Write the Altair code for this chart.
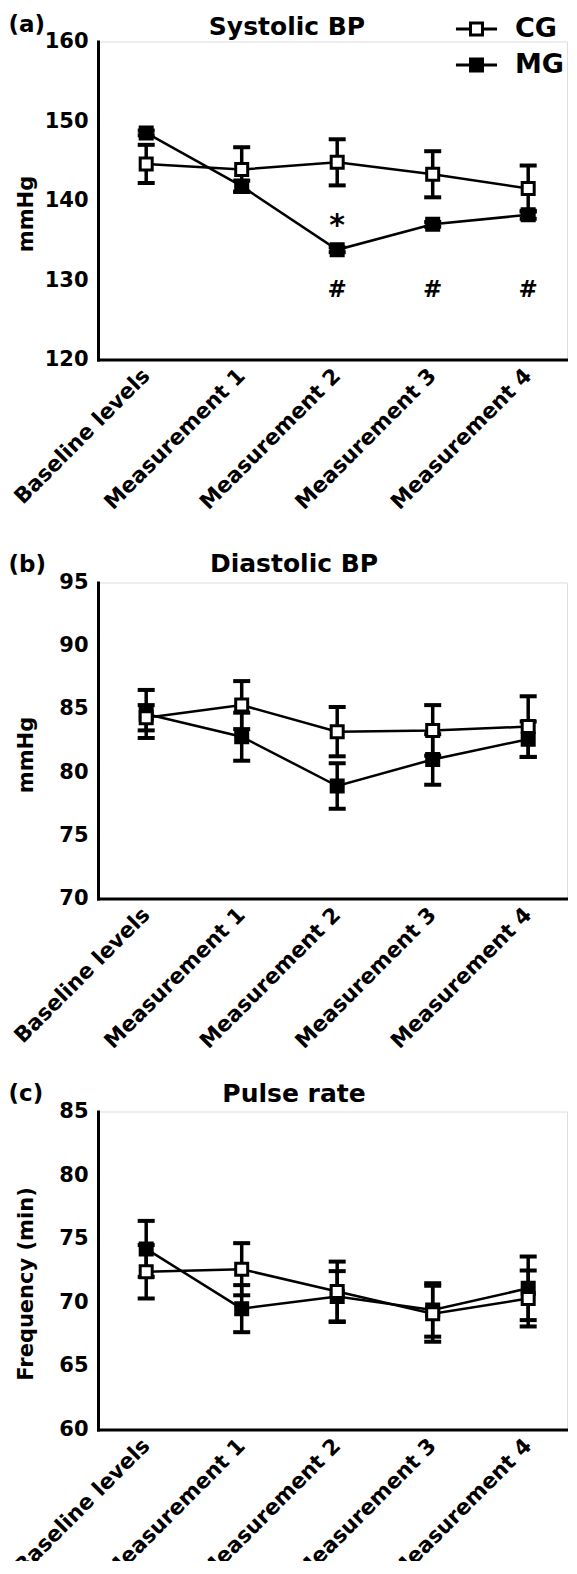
import altair as alt
import pandas as pd

FONT = "DejaVu Sans"

categories = ["Baseline levels", "Measurement 1", "Measurement 2", "Measurement 3", "Measurement 4"]
groups = ["CG", "MG"]

# (a) Systolic BP, mmHg
sys_cg = [144.6, 143.9, 144.8, 143.3, 141.5]
sys_cg_err = [2.4, 2.8, 2.9, 2.9, 2.9]
sys_mg = [148.5, 141.8, 133.8, 137.0, 138.2]
sys_mg_err = [0.3, 0.7, 0.3, 0.3, 0.5]

# (b) Diastolic BP, mmHg
dia_cg = [84.3, 85.3, 83.2, 83.3, 83.6]
dia_cg_err = [1.0, 1.9, 1.95, 2.0, 2.4]
dia_mg = [84.6, 82.8, 78.9, 81.0, 82.6]
dia_mg_err = [1.9, 1.9, 1.8, 2.0, 1.4]

# (c) Pulse rate, per min
pul_cg = [72.4, 72.6, 70.85, 69.1, 70.3]
pul_cg_err = [2.1, 2.05, 2.35, 2.2, 2.2]
pul_mg = [74.2, 69.5, 70.45, 69.4, 71.1]
pul_mg_err = [2.2, 1.85, 2.0, 2.1, 2.5]

# significance marks in panel (a)
sig_cats = ["Measurement 2", "Measurement 2", "Measurement 3", "Measurement 4"]
sig_marks = ["*", "#", "#", "#"]
sig_y = [137.6, 128.8, 128.8, 128.8]

PLOT_W = 469
LEG_PATH = "M-1.58,0H-0.46M0.46,0H1.58M-0.46,-0.46H0.46V0.46H-0.46Z"


def frame(cg, cg_err, mg, mg_err):
    rows = []
    for g, m, e in (("MG", mg, mg_err), ("CG", cg, cg_err)):
        for c, v, s in zip(categories, m, e):
            rows.append({"cat": c, "group": g, "mean": v, "lo": v - s, "hi": v + s})
    return pd.DataFrame(rows)


def panel(df, ymin, ymax, step, ytitle, title, tag, height, title_cx, title_cy,
          tag_cy, legend=None, sig=None):
    xenc = alt.X(
        "cat:N", sort=categories,
        scale=alt.Scale(type="point", domain=categories, padding=0.4555, align=0.554),
        axis=alt.Axis(title=None, labelAngle=315, labelAlign="right", labelBaseline="middle",
                      labelFont=FONT, labelFontSize=21.5, labelFontWeight="bold",
                      labelColor="black", labelPadding=13, labelLimit=400, labelOverlap=False,
                      ticks=False, tickSize=0, domainColor="black", domainWidth=3,
                      domainCap="square", grid=False),
    )
    yscale = alt.Scale(domain=[ymin, ymax], nice=False, zero=False)
    yaxis = alt.Axis(values=list(range(ymin, ymax + 1, step)), title=ytitle,
                     titleFont=FONT, titleFontSize=21, titleFontWeight="bold",
                     titleColor="black", titleX=-72, titleY=172, titleAlign="center",
                     titleBaseline="middle", titleAngle=270,
                     labelFont=FONT, labelFontSize=21, labelFontWeight="bold",
                     labelColor="black", labelPadding=10, labelOverlap=False,
                     ticks=False, tickSize=0, domainColor="black", domainWidth=3,
                     domainCap="square", grid=False)

    def Y(field):
        return alt.Y(field, scale=yscale, axis=yaxis)

    base = alt.Chart(df)
    line = base.mark_line(color="black", strokeWidth=2.5).encode(
        x=xenc, y=Y("mean:Q"), detail="group:N")
    bars = base.mark_rule(color="black", strokeWidth=3.5).encode(
        x=xenc, y=Y("lo:Q"), y2="hi:Q")
    cap_lo = base.mark_tick(color="black", thickness=4, size=17, opacity=1).encode(
        x=xenc, y=Y("lo:Q"))
    cap_hi = base.mark_tick(color="black", thickness=4, size=17, opacity=1).encode(
        x=xenc, y=Y("hi:Q"))
    pts = base.mark_point(shape="square", filled=True, size=144, stroke="black",
                          strokeWidth=3, opacity=1).encode(
        x=xenc, y=Y("mean:Q"),
        fill=alt.Fill("group:N", scale=alt.Scale(domain=groups, range=["white", "black"]),
                      legend=legend),
    )
    layers = [line, bars, cap_lo, cap_hi, pts]
    if sig is not None:
        sdf = pd.DataFrame(sig)
        star = alt.Chart(sdf).transform_filter(alt.datum.mark == "*").mark_text(
            font=FONT, fontSize=30, fontWeight="bold", color="black", baseline="middle", dy=6
        ).encode(x=xenc, y=Y("y:Q"), text="mark:N")
        hashes = alt.Chart(sdf).transform_filter(alt.datum.mark == "#").mark_text(
            font=FONT, fontSize=23, fontWeight="bold", color="black", baseline="middle"
        ).encode(x=xenc, y=Y("y:Q"), text="mark:N")
        layers += [star, hashes]
    tag_layer = alt.Chart(pd.DataFrame({"t": [tag]})).mark_text(
        font=FONT, fontSize=23, fontWeight="bold", color="black", align="left",
        baseline="middle").encode(text="t:N", x=alt.value(-89.5), y=alt.value(tag_cy))
    title_layer = alt.Chart(pd.DataFrame({"t": [title]})).mark_text(
        font=FONT, fontSize=25, fontWeight="bold", color="black", align="center",
        baseline="middle").encode(text="t:N", x=alt.value(title_cx), y=alt.value(title_cy))
    layers += [tag_layer, title_layer]
    return alt.layer(*layers).properties(width=PLOT_W, height=height)


legend_a = alt.Legend(
    orient="none", legendX=364, legendY=-27, title=None, direction="vertical",
    symbolType=LEG_PATH, symbolSize=676, symbolStrokeColor="black", symbolStrokeWidth=3,
    labelFont=FONT, labelFontSize=27, labelFontWeight="bold", labelColor="black",
    labelOffset=24, rowPadding=8, padding=0,
)

sig = {"cat": sig_cats, "mark": sig_marks, "y": sig_y}

pa = panel(frame(sys_cg, sys_cg_err, sys_mg, sys_mg_err), 120, 160, 10, "mmHg",
           "Systolic BP", "(a)", 318, 189, -15, -17, legend=legend_a, sig=sig)
pb = panel(frame(dia_cg, dia_cg_err, dia_mg, dia_mg_err), 70, 95, 5, "mmHg",
           "Diastolic BP", "(b)", 316, 196, -19, -18)
pc = panel(frame(pul_cg, pul_cg_err, pul_mg, pul_mg_err), 60, 85, 5, "Frequency (min)",
           "Pulse rate", "(c)", 318, 196, -18, -18)

inner = alt.vconcat(pb, pc, spacing=213, bounds="flush")
chart = (
    alt.vconcat(pa, inner, spacing=223, bounds="flush")
    .resolve_scale(fill="independent")
    .resolve_legend(fill="independent")
    .properties(padding={"left": 0, "top": 4.5, "right": 0, "bottom": -24})
    .configure_view(strokeWidth=0)
    .configure(font=FONT)
)

chart.save("out.html", embed_options={"renderer": "svg", "actions": False})
